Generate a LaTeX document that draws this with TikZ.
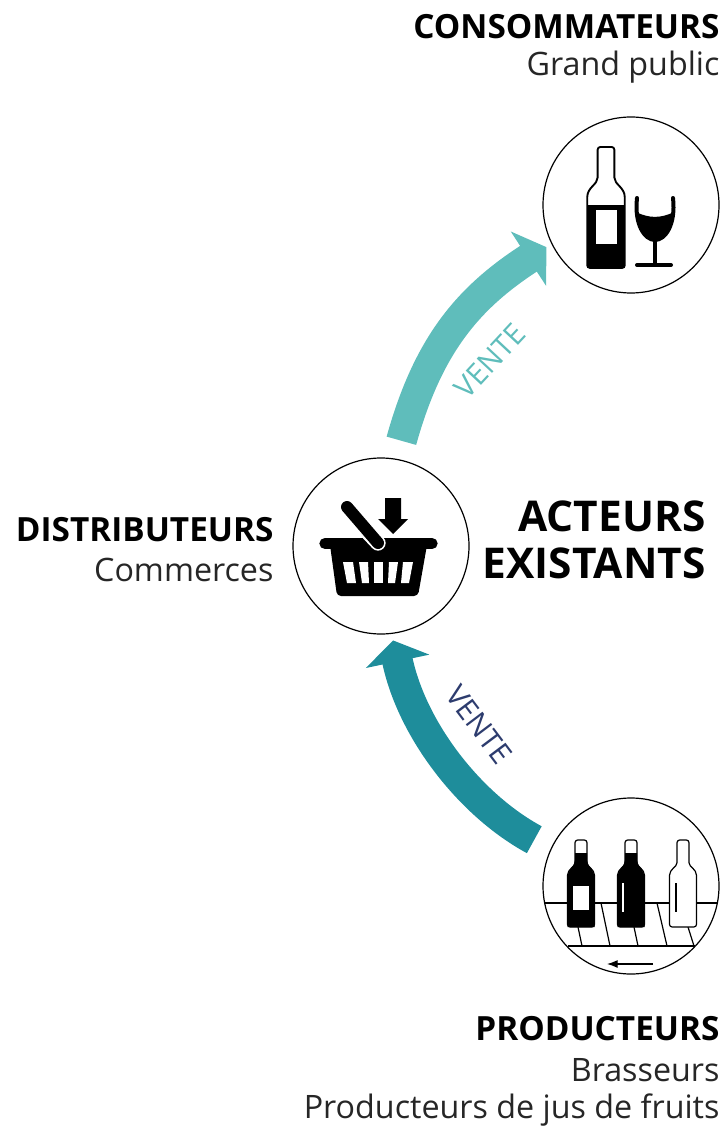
\documentclass[tikz,border=0pt]{standalone}
\usepackage{fontspec}
\setmainfont{Open Sans}
\usetikzlibrary{arrows.meta}
\definecolor{venteclair}{RGB}{95,189,187}
\definecolor{ventefonce}{RGB}{30,141,155}
\definecolor{ventetexte}{RGB}{45,60,110}
\tikzset{every picture/.style={line width=0.75pt}}
\tikzset{
  rond/.style={circle,draw,fill=white,line width=0.9pt,minimum size=132pt,inner sep=0pt},
  titre/.style={anchor=east,inner sep=0pt,font=\fontsize{25}{28}\selectfont\bfseries},
  soustitre/.style={anchor=east,inner sep=0pt,font=\fontsize{24.2}{27}\selectfont\color{black!85}},
  grandtitre/.style={anchor=east,inner sep=0pt,font=\fontsize{31.8}{35}\selectfont\bfseries},
  fleche/.style={line width=23pt,-{Triangle[length=16pt,width=48pt]}},
  vente/.style={inner sep=0pt,font=\fontsize{22}{25}\selectfont},
  rayon/.style={line width=0.9pt}
}
\newcommand{\bouteille}{(-6,0) -- (6,0) -- (6,20) .. controls (6,27) and (13.5,29) .. (13.5,38) -- (13.5,87) -- (-13.5,87) -- (-13.5,38) .. controls (-13.5,29) and (-6,27) .. (-6,20) -- cycle}
\begin{document}
\begin{tikzpicture}[x=0.75pt,y=0.75pt,yscale=-1,xscale=1]
\useasboundingbox (0,0) rectangle (726,1126);

% circles
\node [rond] (conso) at (631,205) {};
\node [rond] (distrib) at (381,546) {};
\node [rond] (produc) at (631,886) {};

% arrows
\draw [fleche,color=venteclair,shorten <=14pt,shorten >=4.5pt] (distrib.80) .. controls (428,345) and (468,298) .. (conso.206);
\draw [fleche,color=ventefonce,shorten <=14pt,shorten >=5pt] (produc.155) .. controls (470,805) and (412,730) .. (distrib.277);
\node [vente,text=venteclair,rotate=47] (vente1) at (490,361) {VENTE};
\node [vente,text=ventetexte,rotate=-53] (vente2) at (479,725) {VENTE};

% bottle and glass
\begin{scope}[shift={(606,147)},xscale=1.39,yscale=1.39]
\clip \bouteille;
\fill (-20,42) rectangle (20,90);
\fill [white] (-7,45) rectangle (8,70);
\end{scope}
\draw [shift={(606,147)},xscale=1.39,yscale=1.39,line width=1.4pt,rounded corners=2pt] \bouteille;
\draw [line width=3pt,line cap=round] (637,198) .. controls (634,225) and (645,240) .. (655,240) .. controls (665,240) and (676,225) .. (673,198);
\fill (636,212) .. controls (648,218) and (660,219) .. (674,212) .. controls (674,230) and (664,241) .. (655,241) .. controls (646,241) and (636,230) .. (636,212) -- cycle;
\draw [line width=3pt] (655,240) -- (655,265);
\draw [line width=3pt,line cap=round] (637,265) -- (671,265);

% basket
\fill [rounded corners=3pt] (330,545) -- (427,545) -- (418,596) -- (337,596) -- cycle;
\draw [line width=8.5pt,line cap=round] (325,543.5) -- (432,543.5);
\fill [white] (343,562) -- (353,562) -- (356,583) -- (347,583) -- cycle;
\fill [white] (359,562) -- (368,562) -- (369,583) -- (362,583) -- cycle;
\fill [white] (374,562) -- (383,562) -- (383,583) -- (374,583) -- cycle;
\fill [white] (389,562) -- (398,562) -- (395,583) -- (388,583) -- cycle;
\fill [white] (403,562) -- (413,562) -- (409,583) -- (401,583) -- cycle;
\fill (385,498) -- (401,498) -- (401,519) -- (408,519) -- (393,534) -- (378,519) -- (385,519) -- cycle;
\draw [white,line width=11.5pt,line cap=round] (362,526) -- (378,543);
\draw [line width=9pt,line cap=round] (347,507) -- (378,543);

% shelf
\draw [rayon] (545,903) -- (718,903);
\draw [rayon] (568,946) -- (695,946);
\draw [rayon] (578,927) -- (582,946);
\draw [rayon] (601,903) -- (610,946);
\draw [rayon] (634,927) -- (638,946);
\draw [rayon] (657,903) -- (667,946);
\draw [rayon] (688,927) -- (694,946);
\draw [rayon,-{Latex[length=8pt,width=6pt]}] (653,964) -- (607,964);
\foreach \px/\py in {581/840,631/840,683/840}{
  \fill [white,shift={(\px,\py)}] \bouteille;
  \draw [shift={(\px,\py)},line width=0.9pt,rounded corners=2pt] \bouteille;
}
\begin{scope}[shift={(581,840)}]
\clip \bouteille;
\fill (-20,13) rectangle (20,90);
\fill [white] (-8,46) rectangle (8,70);
\end{scope}
\begin{scope}[shift={(631,840)}]
\clip \bouteille;
\fill (-20,13) rectangle (20,90);
\fill [white] (-9,43) rectangle (-7,72);
\end{scope}
\draw [line width=1.1pt] (676,883) -- (676,912);

% labels
\node [titre] (tconso) at (720,27) {CONSOMMATEURS};
\node [soustitre] (sconso) at (720,67) {Grand public};
\node [titre] (tdistrib) at (274,530) {DISTRIBUTEURS};
\node [soustitre] (sdistrib) at (274,570) {Commerces};
\node [titre] (tprod) at (720,1029) {PRODUCTEURS};
\node [soustitre] (sprod) at (720,1070) {Brasseurs};
\node [soustitre] (sprod2) at (720,1110) {Producteurs de jus de fruits};
\node [grandtitre] (tact) at (706,516) {ACTEURS};
\node [grandtitre] (tact2) at (706,563) {EXISTANTS};

\end{tikzpicture}
\end{document}
